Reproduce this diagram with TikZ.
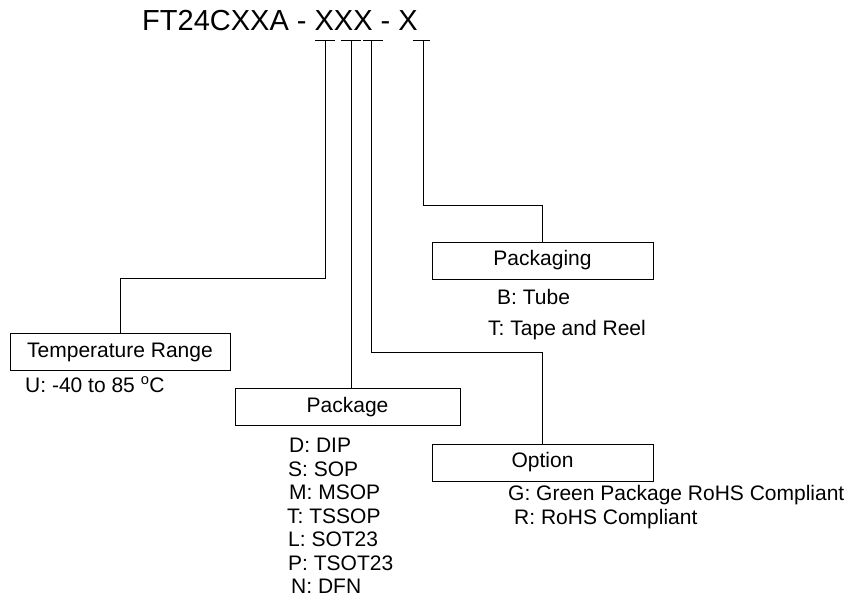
\documentclass[tikz,border=0pt]{standalone}
\usepackage{fontspec}
\setmainfont{Liberation Sans}

\begin{document}
\begin{tikzpicture}%
	[x={(1pt,0pt)},
	y={(0pt,-1pt)},
	link/.style={line width=0.9pt},
	field/.style={draw, line width=0.9pt, inner sep=0pt, minimum height=37pt, font=\fontsize{21}{25}\selectfont},
	entry/.style={anchor=base west, inner sep=0pt, font=\fontsize{21}{25}\selectfont}]
%
\useasboundingbox (0,0) rectangle (857,598);
%%
%% Part number
%%
\node[anchor=base west, inner sep=0pt, font=\fontsize{29}{34}\selectfont] (partno) at (142,30) {FT24CXXA - XXX - X};
%%
%% Tick points under the part number
%%
\coordinate (t1) at (325,40);
\coordinate (t2) at (351,40);
\coordinate (t3) at (371,40);
\coordinate (t4) at (423,40);
\draw[link] ([xshift=-10pt]t1) -- ([xshift=10pt]t1);
\draw[link] ([xshift=-10pt]t2) -- ([xshift=10pt]t2);
\draw[link] ([xshift=-8pt]t3) -- ([xshift=12pt]t3);
\draw[link] ([xshift=-10pt]t4) -- ([xshift=7pt]t4);
%%
%% Boxes
%%
\node[field, minimum width=220pt] (temp) at (120,352) {Temperature Range};
\node[field, minimum width=225pt] (pkg) at (347.5,407) {Package};
\node[field, minimum width=221pt] (pkging) at (542.5,260.5) {Packaging};
\node[field, minimum width=221pt] (opt) at (542.5,462.5) {Option};
%%
%% Connectors
%%
\draw[link] (t1) -- ++(0,238) -| (temp.north);
\draw[link] (t2) -- (t2 |- pkg.north);
\draw[link] (t3) -- ++(0,312) -| (opt.north);
\draw[link] (t4) -- ++(0,165) -| (pkging.north);
%%
%% Codes
%%
\node[entry] (tempU) at (25,392.5) {U: -40 to 85 \textsuperscript{o}C};
%
\node[entry] (pkgD) at (289,452.5) {D: DIP};
\node[entry] (pkgS) at (288,476) {S: SOP};
\node[entry] (pkgM) at (289,499.5) {M: MSOP};
\node[entry] (pkgT) at (287,523) {T: TSSOP};
\node[entry] (pkgL) at (288,546.5) {L: SOT23};
\node[entry] (pkgP) at (288,570) {P: TSOT23};
\node[entry] (pkgN) at (291,593.5) {N: DFN};
%
\node[entry] (pkgingB) at (497,304.5) {B: Tube};
\node[entry] (pkgingT) at (488,335.5) {T: Tape and Reel};
%
\node[entry] (optG) at (508,500) {G: Green Package RoHS Compliant};
\node[entry] (optR) at (514,524.5) {R: RoHS Compliant};
%%
\end{tikzpicture}
\end{document}
